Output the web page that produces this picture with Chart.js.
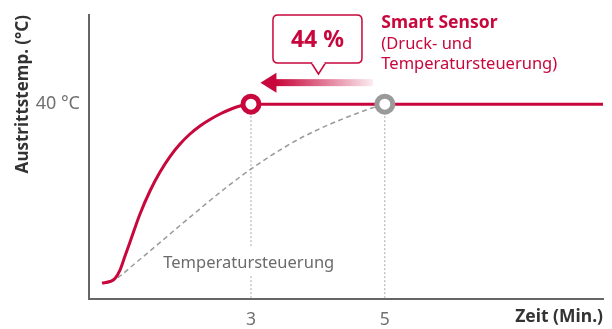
<!DOCTYPE html>
<html>
<head>
<meta charset="utf-8">
<script src="https://cdn.jsdelivr.net/npm/chart.js@4/dist/chart.umd.min.js"></script>
<style>
  html, body { margin: 0; padding: 0; background: #fff; }
  canvas { display: block; }
</style>
</head>
<body>
<canvas id="chart" width="612" height="329"></canvas>
<script>
'use strict';

// Smart Sensor curve (Zeit in Min., Temperatur)
var sensorX = [0.774, 0.894, 0.968, 1.043, 1.118, 1.193, 1.342, 1.491, 1.641, 1.790, 1.940, 2.089, 2.238, 2.388, 2.537, 2.687, 2.836, 3.0, 8.26];
var sensorY = [3.28, 3.59, 4.21, 5.95, 8.83, 11.70, 17.45, 22.17, 26.07, 29.25, 31.82, 33.87, 35.52, 36.85, 37.98, 38.90, 39.62, 40, 40];

// conventional temperature control
var controlX = [0.774, 0.924, 1.043, 1.267, 1.491, 1.716, 1.940, 2.164, 2.388, 2.612, 2.836, 3.060, 3.284, 3.508, 3.732, 3.957, 4.181, 4.405, 4.629, 4.808, 5.0];
var controlY = [3.28, 3.59, 4.72, 7.29, 9.85, 12.46, 15.09, 17.66, 20.22, 22.69, 25.05, 27.24, 29.30, 31.20, 32.95, 34.49, 35.89, 37.16, 38.33, 39.21, 40];

var xTicks = [3, 5];
var yTicks = [40];
var targetTemp = 40;
var reachTimes = [3, 5];       // sensor / conventional
var savingLabel = '44 %';

var RED = '#c8073c';
var GREY = '#9a9a9a';
var FONT = '"Noto Sans", "Open Sans", sans-serif';

function toPoints(xs, ys) {
    return xs.map(function(x, i) { return { x: x, y: ys[i] }; });
}

function roundRect(ctx, x, y, w, h, r) {
    ctx.beginPath();
    ctx.moveTo(x + r, y);
    ctx.lineTo(x + w - r, y);
    ctx.quadraticCurveTo(x + w, y, x + w, y + r);
    ctx.lineTo(x + w, y + h - r);
    ctx.quadraticCurveTo(x + w, y + h, x + w - r, y + h);
    ctx.lineTo(x + r, y + h);
    ctx.quadraticCurveTo(x, y + h, x, y + h - r);
    ctx.lineTo(x, y + r);
    ctx.quadraticCurveTo(x, y, x + r, y);
    ctx.closePath();
}

// keep the plot box where layout.padding puts it
function noLabelPadding(s) {
    s.paddingTop = 0;
    s.paddingBottom = 0;
    s.paddingLeft = 0;
    s.paddingRight = 0;
}

// label under the curves, callout bubble, arrow and legend text
var annotations = {
    id: 'annotations',
    afterDatasetsDraw: function(chart) {
        var ctx = chart.ctx;
        var xs = chart.scales.x, ys = chart.scales.y;

        // "Temperatursteuerung" with white backing over the drop line
        var lx = xs.getPixelForValue(1.69), ly = ys.getPixelForValue(6.3);
        ctx.save();
        ctx.font = '16.5px ' + FONT;
        var lw = ctx.measureText('Temperatursteuerung').width;
        ctx.fillStyle = '#fff';
        ctx.fillRect(lx - 3, ly - 21, lw + 6, 28);
        ctx.fillStyle = '#6b6b6b';
        ctx.textBaseline = 'alphabetic';
        ctx.fillText('Temperatursteuerung', lx, ly);
        ctx.restore();
    },
    afterDraw: function(chart) {
        var ctx = chart.ctx;
        var xs = chart.scales.x, ys = chart.scales.y;
        var px = xs.getPixelForValue(reachTimes[0]);
        var py = ys.getPixelForValue(targetTemp);
        var p5 = xs.getPixelForValue(reachTimes[1]);
        var top = chart.chartArea.top;

        ctx.save();

        // arrow pointing back to the earlier time
        var ay = py - 21.5;
        var tipX = px + 9.5, headX = tipX + 16, endX = px + 122;
        var grad = ctx.createLinearGradient(headX, 0, endX, 0);
        grad.addColorStop(0, RED);
        grad.addColorStop(1, 'rgba(200,7,60,0.08)');
        ctx.fillStyle = grad;
        ctx.fillRect(headX - 1, ay - 3.5, endX - headX + 1, 7);
        ctx.fillStyle = RED;
        ctx.beginPath();
        ctx.moveTo(tipX, ay);
        ctx.lineTo(headX, ay - 10);
        ctx.lineTo(headX, ay + 10);
        ctx.closePath();
        ctx.fill();

        // callout bubble
        var bx = px + 22, bw = 89, by = top, bh = 48;
        var tailL = px + 60.5, tailR = px + 74.5, tailTip = px + 67.5;
        ctx.lineWidth = 1.5;
        ctx.strokeStyle = RED;
        ctx.fillStyle = '#fff';
        roundRect(ctx, bx, by, bw, bh, 5);
        ctx.fill();
        ctx.stroke();
        ctx.beginPath();
        ctx.moveTo(tailL, by + bh);
        ctx.lineTo(tailTip, by + bh + 11);
        ctx.lineTo(tailR, by + bh);
        ctx.fill();
        ctx.stroke();
        ctx.fillRect(tailL + 1, by + bh - 1.5, tailR - tailL - 2, 2.5);

        ctx.fillStyle = RED;
        ctx.font = 'bold 23px ' + FONT;
        ctx.textAlign = 'center';
        ctx.textBaseline = 'alphabetic';
        ctx.fillText(savingLabel, bx + bw / 2, by + 32);

        // Smart Sensor legend text
        var tx = p5 - 3.5;
        ctx.textAlign = 'left';
        ctx.font = 'bold 17.5px ' + FONT;
        ctx.fillText('Smart Sensor', tx, top + 13);
        ctx.font = '16.5px ' + FONT;
        ctx.fillText('(Druck- und', tx, top + 34);
        ctx.fillText('Temperatursteuerung)', tx, top + 53.5);

        ctx.restore();
    }
};

var ctx = document.getElementById('chart').getContext('2d');
new Chart(ctx, {
    type: 'line',
    data: {
        datasets: [{
            // reach markers
            type: 'scatter',
            data: [{ x: reachTimes[0], y: targetTemp }, { x: reachTimes[1], y: targetTemp }],
            pointRadius: 8,
            pointBorderWidth: 5,
            pointBackgroundColor: '#fff',
            pointBorderColor: [RED, GREY],
            order: 0
        }, {
            data: toPoints(sensorX, sensorY),
            borderColor: RED,
            borderWidth: 3,
            pointRadius: 0,
            cubicInterpolationMode: 'monotone',
            order: 1
        }, {
            data: toPoints(controlX, controlY),
            borderColor: GREY,
            borderWidth: 1.5,
            borderDash: [5, 3.5],
            pointRadius: 0,
            cubicInterpolationMode: 'monotone',
            order: 2
        }, {
            data: [{ x: reachTimes[0], y: targetTemp }, { x: reachTimes[0], y: 0 }],
            borderColor: '#a8a8a8',
            borderWidth: 1,
            borderDash: [2, 2],
            pointRadius: 0,
            order: 3
        }, {
            data: [{ x: reachTimes[1], y: targetTemp }, { x: reachTimes[1], y: 0 }],
            borderColor: '#a8a8a8',
            borderWidth: 1,
            borderDash: [2, 2],
            pointRadius: 0,
            order: 3
        }]
    },
    options: {
        responsive: false,
        animation: false,
        layout: {
            autoPadding: false,
            padding: { top: 15, right: 9, left: 0, bottom: 0 }
        },
        plugins: {
            legend: { display: false },
            tooltip: { enabled: false }
        },
        scales: {
            x: {
                type: 'linear',
                min: 0.58,
                max: 8.26,
                border: { color: '#666', width: 2 },
                grid: { display: false, drawTicks: false },
                afterBuildTicks: function(s) {
                    s.ticks = xTicks.map(function(v) { return { value: v }; });
                },
                afterFit: function(s) { s.height = 30; noLabelPadding(s); },
                ticks: {
                    autoSkip: false,
                    maxRotation: 0,
                    padding: 11,
                    color: '#707070',
                    font: { family: FONT, size: 17.5 },
                    callback: function(v) { return String(v); }
                },
                title: {
                    display: true,
                    text: 'Zeit (Min.)',
                    align: 'end',
                    color: '#333',
                    font: { family: FONT, size: 17.5, weight: 'bold' },
                    padding: { top: 0, bottom: 1 }
                }
            },
            y: {
                min: 0,
                max: 58.3,
                border: { color: '#666', width: 2 },
                grid: { display: false, drawTicks: false },
                afterBuildTicks: function(s) {
                    s.ticks = yTicks.map(function(v) { return { value: v }; });
                },
                afterFit: function(s) { s.width = 89; noLabelPadding(s); },
                ticks: {
                    padding: 9,
                    color: '#707070',
                    font: { family: FONT, size: 18 },
                    callback: function(v) { return v + ' °C'; }
                },
                title: {
                    display: true,
                    text: 'Austrittstemp. (°C)',
                    align: 'end',
                    color: '#333',
                    font: { family: FONT, size: 17, weight: 'bold' },
                    padding: { top: 13, bottom: 0 }
                }
            }
        }
    },
    plugins: [annotations]
});
</script>
</body>
</html>
